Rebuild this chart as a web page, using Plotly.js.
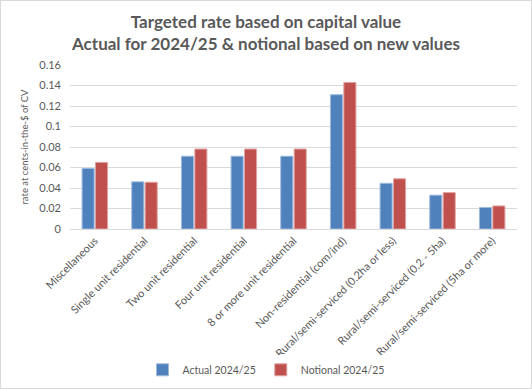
<!DOCTYPE html>
<html>
<head>
<meta charset="utf-8">
<script src="https://cdn.plot.ly/plotly-3.0.1.min.js"></script>
<style>
html,body{margin:0;padding:0;background:#fff;}
#chart{width:530px;height:387px;border:1px solid #d9d9d9;}
</style>
</head>
<body>
<div id="chart"></div>
<script>
var categories = [
  "Miscellaneous",
  "Single unit residential",
  "Two unit residential",
  "Four unit residential",
  "8 or more unit residential",
  "Non-residential (com/ind)",
  "Rural/semi-serviced (0.2ha or less)",
  "Rural/semi-serviced (0.2 - 5ha)",
  "Rural/semi-serviced (5ha or more)"
];
var actual = [0.059, 0.046, 0.071, 0.071, 0.071, 0.131, 0.0446, 0.033, 0.021];
var notional = [0.065, 0.0456, 0.078, 0.078, 0.078, 0.143, 0.049, 0.0355, 0.0225];
var yTicks = [0, 0.02, 0.04, 0.06, 0.08, 0.1, 0.12, 0.14, 0.16];
var yTickText = ["0", "0.02", "0.04", "0.06", "0.08", "0.1", "0.12", "0.14", "0.16"];

var font = "Lato, 'Open Sans', sans-serif";
var traces = [
  {type: "bar", name: "Actual 2024/25", x: categories, y: actual,
   marker: {color: "#4F81BD", line: {color: "#9DB9DD", width: 1}}},
  {type: "bar", name: "Notional 2024/25", x: categories, y: notional,
   marker: {color: "#C0504D", line: {color: "#E0A3A1", width: 1}}}
];
var layout = {
  width: 530, height: 387,
  margin: {l: 69, r: 14, t: 64, b: 159, autoexpand: false},
  paper_bgcolor: "#fff", plot_bgcolor: "#fff",
  barmode: "group", bargap: 0.46, bargroupgap: 0.1,
  font: {family: font, color: "#595959", size: 10},
  title: {text: "<b>Targeted rate based on capital value<br>Actual for 2024/25 & notional based on new values</b>",
          x: 0.5, xanchor: "center", y: 0.93, yanchor: "top",
          font: {family: font, size: 17, color: "#595959"}},
  xaxis: {type: "category", tickangle: -45, showgrid: false, showline: true, automargin: false,
          linecolor: "#d9d9d9", ticks: "", tickfont: {size: 11, color: "#595959"}},
  yaxis: {range: [0, 0.16], tickvals: yTicks, ticktext: yTickText, showgrid: true, automargin: false,
          gridcolor: "#d9d9d9", zeroline: true, zerolinecolor: "#d9d9d9", showline: false,
          ticks: "", ticklen: 0, ticklabelstandoff: 8, tickfont: {size: 11, color: "#595959"},
          title: {text: "rate at cents-in-the-$ of CV", font: {size: 9.5, color: "#595959"}, standoff: 8}},
  legend: {orientation: "h", x: 0.5, xanchor: "center", xref: "container",
           y: 0.047, yanchor: "middle", yref: "container",
           font: {size: 10.5, color: "#595959"}, itemwidth: 30},
  showlegend: true
};
Plotly.newPlot("chart", traces, layout, {displayModeBar: false, staticPlot: true});
</script>
</body>
</html>
